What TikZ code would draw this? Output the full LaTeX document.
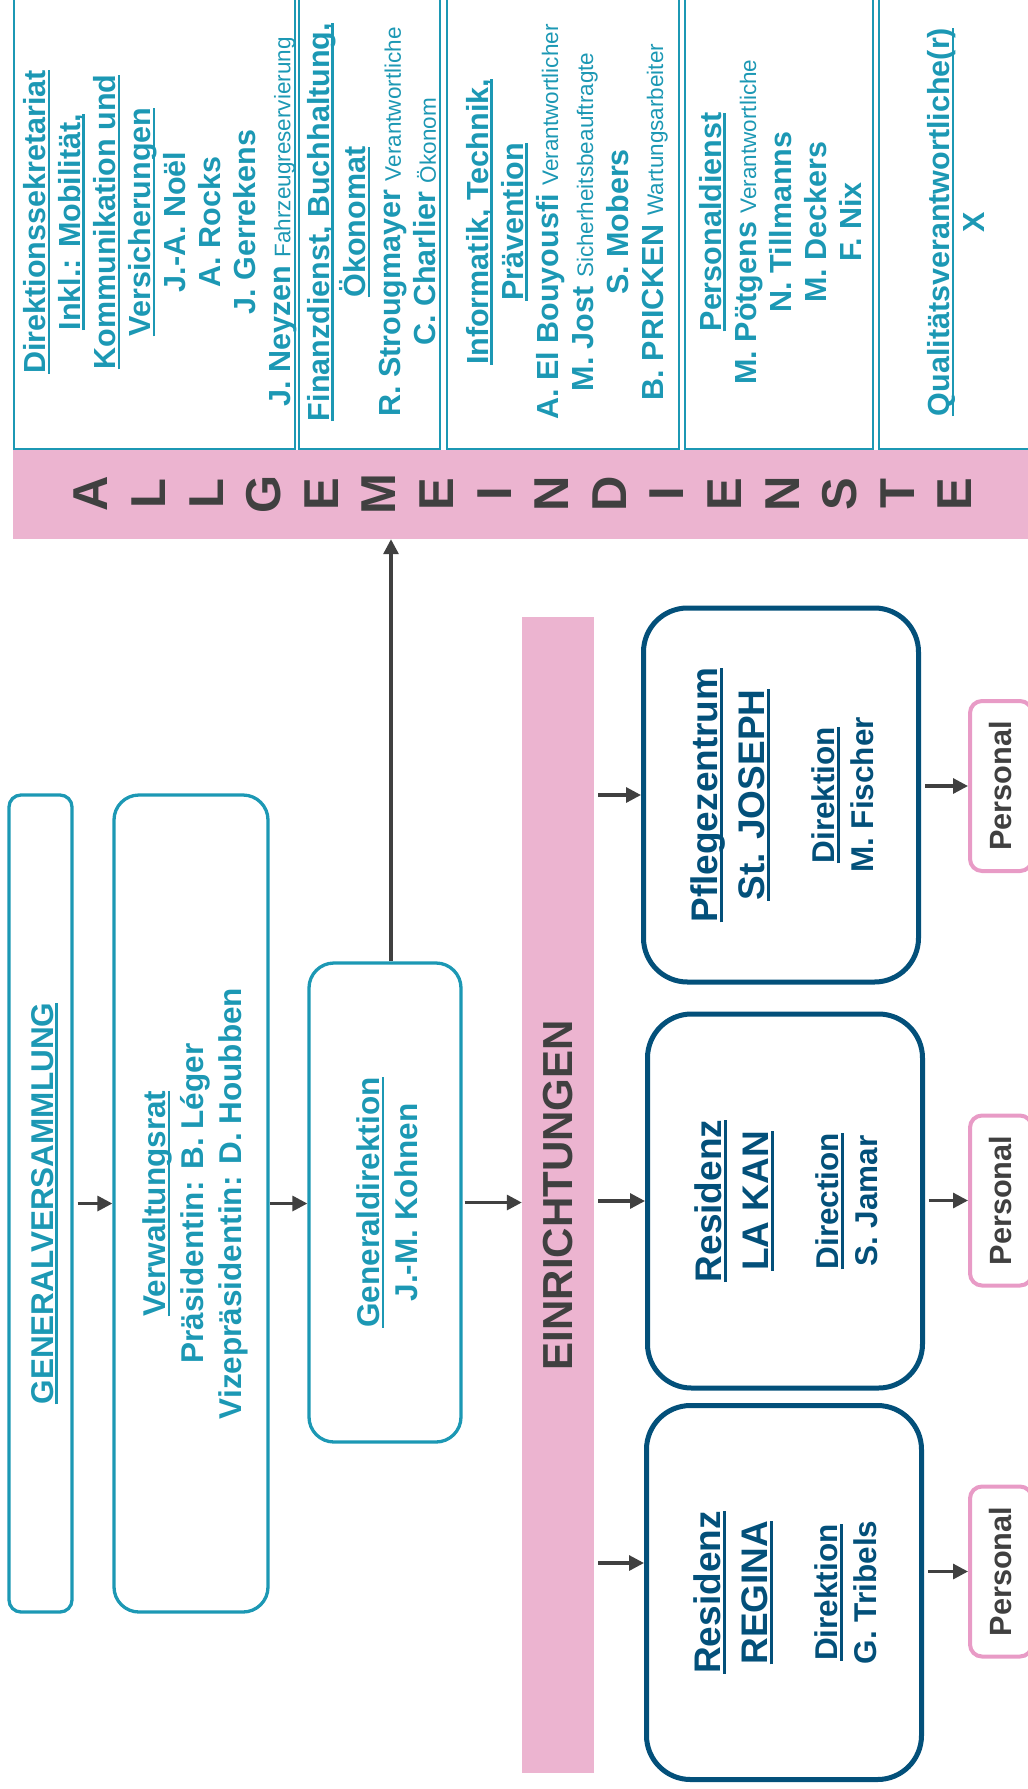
\documentclass[tikz,border=0pt]{standalone}
\usepackage{fontspec}
\setmainfont{Liberation Sans}
\usetikzlibrary{arrows.meta}

\definecolor{tealblue}{RGB}{28,152,180}
\definecolor{bandpink}{RGB}{236,180,208}
\definecolor{framepink}{RGB}{232,155,198}
\definecolor{navyblue}{RGB}{3,80,122}
\definecolor{inkgray}{RGB}{64,64,64}

\newcommand{\fsz}[2]{\fontsize{#1}{#2}\selectfont}
\newcommand{\desc}[1]{{\fsz{22.5}{35}\mdseries #1}}
\newcommand{\unterstr}[1]{\setbox0\hbox{#1}\rlap{\copy0}\rule[-4.6pt]{\wd0}{2.6pt}}
% text turned by 90 degrees, the last skip moves it a little to the right
\newcommand{\upstack}[2][-11pt]{\rotatebox{90}{\begin{tabular}{@{}c@{}}#2\\[#1]\end{tabular}}}

\tikzset{
  dienst/.style={draw=tealblue, line width=2.5pt, inner sep=0pt, text=tealblue, font=\fsz{30.5}{35}\bfseries},
  organ/.style={draw=tealblue, line width=3.3pt, inner sep=0pt, text=tealblue, font=\fsz{31.5}{38}\bfseries},
  haus/.style={draw=navyblue, line width=5pt, rounded corners=44pt, inner sep=0pt, text=navyblue, font=\fsz{37}{41}\bfseries, minimum width=275pt, minimum height=374pt},
  personal/.style={draw=framepink, line width=4pt, rounded corners=12pt, inner sep=0pt, text=inkgray, font=\fsz{30.7}{36}\bfseries, minimum width=62pt, minimum height=170pt},
  band/.style={fill=bandpink, inner sep=0pt, text=inkgray},
  pfeil/.style={draw=inkgray, line width=3.2pt, -{Triangle[length=15pt,width=15pt]}},
}

\begin{document}
\begin{tikzpicture}[x=1pt,y=-1pt]
\useasboundingbox (0,0) rectangle (1028,1789);
\clip (0,0) rectangle (1028,1789);

% allgemeine dienste
\node[dienst, minimum width=281pt, minimum height=454pt] (sekretariat) at (154.5,222) {\upstack[-13pt]{\unterstr{Direktionssekretariat}\\ \unterstr{Inkl.: Mobilität,}\\ \unterstr{Kommunikation und}\\ \unterstr{Versicherungen}\\ J.-A. Noël\\ A. Rocks\\ J. Gerrekens\\ J. Neyzen \desc{Fahrzeugreservierung}}};
\node[dienst, minimum width=141pt, minimum height=454pt] (finanzen) at (369.5,222) {\upstack[-12pt]{\unterstr{Finanzdienst, Buchhaltung,}\\ \unterstr{Ökonomat}\\ R. Strougmayer \desc{Verantwortliche}\\ C. Charlier \desc{Ökonom}}};
\node[dienst, minimum width=232pt, minimum height=454pt] (technik) at (563,222) {\upstack[-11pt]{\unterstr{Informatik, Technik,}\\ \unterstr{Prävention}\\ A. El Bouyousfi \desc{Verantwortlicher}\\ M. Jost \desc{Sicherheitsbeauftragte}\\ S. Mobers\\ B. PRICKEN \desc{Wartungsarbeiter}}};
\node[dienst, minimum width=188pt, minimum height=454pt] (personaldienst) at (779,222) {\upstack[-10pt]{\unterstr{Personaldienst}\\ M. Pötgens \desc{Verantwortliche}\\ N. Tillmanns\\ M. Deckers\\ F. Nix}};
\node[dienst, minimum width=152pt, minimum height=454pt] (qualitaet) at (955,222) {\upstack[-10pt]{\unterstr{Qualitätsverantwortliche(r)}\\ X}};

\node[band, minimum width=1022pt, minimum height=89pt] (allg) at (524,494.5) {};
\foreach \b [count=\i from 0] in {A,L,L,G,E,M,E,I,N,D,I,E,N,S,T,E}
  \node[text=inkgray, font=\fsz{49}{55}\bfseries, inner sep=0pt] (b\i) at (91+57.6*\i,494) {\rotatebox{90}{\b}};

% leitung
\node[organ, rounded corners=12pt, minimum width=63pt, minimum height=817pt] (versammlung) at (40.5,1203.5) {\upstack[-10pt]{\unterstr{GENERALVERSAMMLUNG}}};
\node[organ, rounded corners=25pt, minimum width=154pt, minimum height=817pt] (rat) at (191,1203.5) {\upstack[-10pt]{\unterstr{Verwaltungsrat}\\ Präsidentin: B. Léger\\ Vizepräsidentin: D. Houbben}};
\node[organ, rounded corners=25pt, minimum width=152pt, minimum height=479pt] (direktion) at (385,1202.5) {\upstack[-12pt]{\unterstr{Generaldirektion}\\ J.-M. Kohnen}};

% einrichtungen
\node[band, minimum width=72pt, minimum height=1156pt, font=\fsz{42}{48}\bfseries] (einrichtungen) at (558,1195) {\rotatebox{90}{EINRICHTUNGEN}};

\node[haus] (joseph) at (781,795) {\upstack[-13pt]{\unterstr{Pflegezentrum}\\[6pt] \unterstr{St. JOSEPH}\\[29pt] {\fsz{31.5}{39}\unterstr{Direktion}}\\[-2.5pt] {\fsz{31.5}{39}M. Fischer}}};
\node[haus] (lakan) at (785,1201) {\upstack[-13pt]{\unterstr{Residenz}\\[6pt] \unterstr{LA KAN}\\[29pt] {\fsz{31.5}{39}\unterstr{Direction}}\\[-2.5pt] {\fsz{31.5}{39}S. Jamar}}};
\node[haus] (regina) at (784,1592.5) {\upstack[-13pt]{\unterstr{Residenz}\\[6pt] \unterstr{REGINA}\\[29pt] {\fsz{31.5}{39}\unterstr{Direktion}}\\[-2.5pt] {\fsz{31.5}{39}G. Tribels}}};

\node[personal] (personal1) at (1001,786) {\rotatebox{90}{Personal}};
\node[personal] (personal2) at (1001,1200.5) {\rotatebox{90}{Personal}};
\node[personal] (personal3) at (1001,1571.5) {\rotatebox{90}{Personal}};

% pfeile
\draw[pfeil, shorten <=4pt] (versammlung.east) -- (rat.west);
\draw[pfeil] (rat.east) -- (rat.east -| direktion.west);
\draw[pfeil, shorten <=2pt] (direktion.east) -- (direktion.east -| einrichtungen.west);
\draw[pfeil] ([xshift=6pt]direktion.north) -- ([xshift=6pt]direktion.north |- allg.south);
\draw[pfeil, shorten <=4pt] (einrichtungen.east |- joseph.west) -- (joseph.west);
\draw[pfeil, shorten <=4pt] (einrichtungen.east |- lakan.west) -- (lakan.west);
\coordinate (zeile3) at (600,1563);
\draw[pfeil, shorten <=4pt] (einrichtungen.east |- zeile3) -- (regina.west |- zeile3);
\draw[pfeil, shorten <=4pt] (joseph.east |- personal1.west) -- (personal1.west);
\draw[pfeil, shorten <=4pt] (lakan.east |- personal2.west) -- (personal2.west);
\draw[pfeil, shorten <=4pt] (regina.east |- personal3.west) -- (personal3.west);
\end{tikzpicture}
\end{document}
